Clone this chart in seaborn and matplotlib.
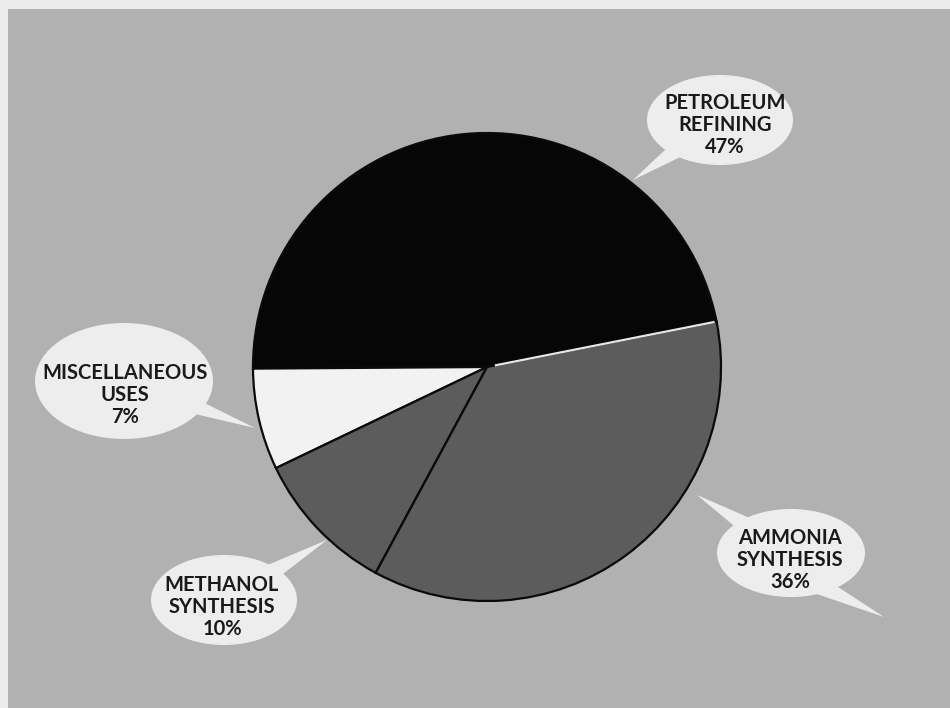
import matplotlib
matplotlib.use("Agg")
import numpy as np
import matplotlib.pyplot as plt
import matplotlib.patches as mpatches
import seaborn as sns

sns.set_theme(style="white")
plt.rcParams['font.family'] = ['Lato', 'DejaVu Sans']

# Data
categories = ["PETROLEUM\nREFINING", "MISCELLANEOUS\nUSES", "METHANOL\nSYNTHESIS", "AMMONIA\nSYNTHESIS"]
shares = [47, 7, 10, 36]
pct_labels = ["47%", "7%", "10%", "36%"]

W, H = 950, 708
fig = plt.figure(figsize=(9.5, 7.08), dpi=100)
fig.patch.set_facecolor("#ececec")
ax = fig.add_axes([0, 0, 1, 1])

def py(y):
    return H - y

# background panel (light frame at top/left)
ax.add_patch(mpatches.Rectangle((8, 0), W - 8, H - 9, facecolor="#b1b1b1", edgecolor="none", zorder=0))

colors = ["#060606", "#f2f2f2", "#5c5c5c", "#5c5c5c"]
start = 180 - shares[0] / 100 * 360 + 0.4
cx0, cy0, R = 487, 367, 234
wedges, _ = ax.pie(shares, colors=colors, startangle=start, counterclock=True,
                   center=(cx0, py(cy0)), radius=R, frame=True,
                   wedgeprops=dict(edgecolor="#0a0a0a", linewidth=1.6))
ax.set_xlim(0, W)
ax.set_ylim(0, H)
ax.set_aspect("equal")
ax.axis("off")

# light line along the petroleum / ammonia boundary, as in the print
th = np.deg2rad(wedges[0].theta1)
ax.plot([cx0 + 8 * np.cos(th), cx0 + (R - 2) * np.cos(th)],
        [py(cy0) + 8 * np.sin(th), py(cy0) + (R - 2) * np.sin(th)],
        color="#e6e6e6", lw=1.6, zorder=2, solid_capstyle="butt")

# speech bubbles: ellipse center, size, tail tip, text center x, middle-line y
bubbles = [
    (720, 120, 146, 90, 633, 180, 725, 125),
    (124, 381, 178, 116, 255, 428, 125, 395),
    (224, 600, 146, 90, 327, 540, 222, 607),
    (791, 553, 148, 88, 697, 495, 790, 560),
]
bubble_fc = "#ededed"
for (cx, cy, bw, bh, tx, ty, lx, ly), cat, pct in zip(bubbles, categories, pct_labels):
    ell = mpatches.Ellipse((cx, py(cy)), bw, bh, facecolor=bubble_fc, edgecolor="none", zorder=3)
    ax.add_patch(ell)
    dx, dy = tx - cx, ty - cy
    n = (dx ** 2 + dy ** 2) ** 0.5
    ux, uy = dx / n, dy / n
    px, pyy = -uy, ux
    bx, by = cx + ux * min(bw, bh) * 0.3, cy + uy * min(bw, bh) * 0.3
    half = 12
    tri = mpatches.Polygon([(bx + px * half, py(by + pyy * half)),
                            (bx - px * half, py(by - pyy * half)),
                            (tx, py(ty))], closed=True, facecolor=bubble_fc,
                           edgecolor="none", zorder=3)
    ax.add_patch(tri)
    ax.text(lx, py(ly), cat + "\n" + pct, ha="center", va="center", fontsize=14.5,
            fontweight="bold", color="#1a1a1a", linespacing=1.14, zorder=4)

# second tail on ammonia bubble
ax.add_patch(mpatches.Polygon([(805, py(590)), (835, py(585)), (884, py(617))], closed=True,
                              facecolor=bubble_fc, edgecolor="none", zorder=3))

fig.savefig("out.png", dpi=100, facecolor=fig.get_facecolor())
